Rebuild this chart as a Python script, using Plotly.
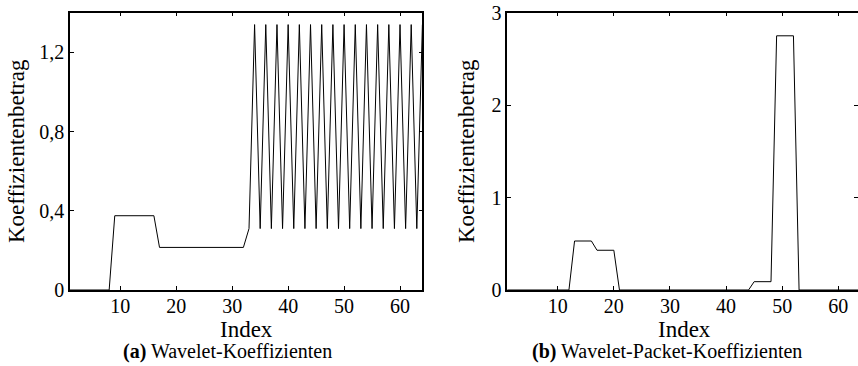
import plotly.graph_objects as go

# ---- data ----
index = list(range(1, 65))

wavelet_coeffs = [
    0, 0, 0, 0, 0, 0, 0, 0,
    0.375, 0.375, 0.375, 0.375, 0.375, 0.375, 0.375, 0.375,
    0.215, 0.215, 0.215, 0.215, 0.215, 0.215, 0.215, 0.215,
    0.215, 0.215, 0.215, 0.215, 0.215, 0.215, 0.215, 0.215,
    0.31, 1.34, 0.31, 1.34, 0.31, 1.34, 0.31, 1.34,
    0.31, 1.34, 0.31, 1.34, 0.31, 1.34, 0.31, 1.34,
    0.31, 1.34, 0.31, 1.34, 0.31, 1.34, 0.31, 1.34,
    0.31, 1.34, 0.31, 1.34, 0.31, 1.34, 0.31, 1.34,
]

packet_coeffs = [
    0, 0, 0, 0, 0, 0, 0, 0, 0, 0, 0, 0,
    0.53, 0.53, 0.53, 0.53,
    0.43, 0.43, 0.43, 0.43,
    0, 0, 0, 0, 0, 0, 0, 0, 0, 0, 0, 0,
    0, 0, 0, 0, 0, 0, 0, 0, 0, 0, 0, 0,
    0.09, 0.09, 0.09, 0.09,
    2.75, 2.75, 2.75, 2.75,
    0, 0, 0, 0, 0, 0, 0, 0, 0, 0, 0, 0,
]

x_ticks = [10, 20, 30, 40, 50, 60]
y_ticks_a = [0, 0.4, 0.8, 1.2]
y_ticktext_a = ["0", "0,4", "0,8", "1,2"]
y_ticks_b = [0, 1, 2, 3]
y_ticktext_b = ["0", "1", "2", "3"]

x_title = "Index"
y_title = "Koeffizientenbetrag"
caption_a = "<b>(a)</b> Wavelet-Koeffizienten"
caption_b = "<b>(b)</b> Wavelet-Packet-Koeffizienten"

# ---- figure ----
W, H = 858, 366
FONT = "Liberation Serif"

fig = go.Figure()
fig.add_trace(go.Scatter(x=index, y=wavelet_coeffs, mode="lines",
                         line=dict(color="black", width=1), xaxis="x", yaxis="y",
                         showlegend=False, hoverinfo="skip"))
fig.add_trace(go.Scatter(x=index, y=packet_coeffs, mode="lines",
                         line=dict(color="black", width=1), xaxis="x2", yaxis="y2",
                         showlegend=False, hoverinfo="skip"))
fig.add_trace(go.Scatter(x=[], y=[], xaxis="x2", yaxis="y3", showlegend=False))

ydom = [76 / H, (H - 12.7) / H]
tickfont = dict(family=FONT, size=20, color="black")
common_x = dict(showline=True, linecolor="black", linewidth=1.5, ticks="inside",
                ticklen=4, tickcolor="black", tickwidth=1, showgrid=False,
                zeroline=False, tickvals=x_ticks, tickfont=tickfont,
                automargin=False, ticklabelstandoff=-3)
common_y = dict(showline=True, linecolor="black", linewidth=1.5, ticks="inside",
                ticklen=4, tickcolor="black", tickwidth=1, showgrid=False,
                zeroline=False, domain=ydom, tickfont=tickfont, automargin=False)

titlefont = dict(family=FONT, size=23, color="black")
capfont = dict(family=FONT, size=20, color="black")

def ann(text, x, y, font, angle=0):
    return dict(text=text, x=x / W, y=1 - y / H, xref="paper", yref="paper",
                showarrow=False, xanchor="center", yanchor="middle", font=font,
                textangle=angle)

fig.update_layout(
    width=W, height=H,
    margin=dict(l=0, r=0, t=0, b=0),
    paper_bgcolor="white", plot_bgcolor="white",
    xaxis=dict(common_x, domain=[70 / W, 422.4 / W], range=[1, 64], mirror="ticks",
               anchor="y"),
    yaxis=dict(common_y, range=[0, 1.4], tickvals=y_ticks_a, ticktext=y_ticktext_a,
               mirror="ticks", anchor="x"),
    xaxis2=dict(common_x, domain=[507.2 / W, 1.0], range=[1, 63.5], mirror="ticks",
                anchor="y2"),
    yaxis2=dict(common_y, range=[0, 3], tickvals=y_ticks_b, ticktext=y_ticktext_b,
                mirror=False, anchor="x2"),
    yaxis3=dict(overlaying="y2", anchor="x2", side="right", range=[0, 3],
                domain=ydom, tickvals=[1, 2], showticklabels=False, ticks="inside",
                ticklen=4, tickcolor="black", tickwidth=1, showline=False,
                showgrid=False, zeroline=False, automargin=False),
    annotations=[
        ann(x_title, 246, 329, titlefont),
        ann(x_title, 684, 329, titlefont),
        ann(y_title, 16, 151, titlefont, -90),
        ann(y_title, 466, 151, titlefont, -90),
        ann(caption_a, 227.5, 351, capfont),
        ann(caption_b, 666.5, 351, capfont),
    ],
)

fig.write_html("out.html", config=dict(displayModeBar=False))
